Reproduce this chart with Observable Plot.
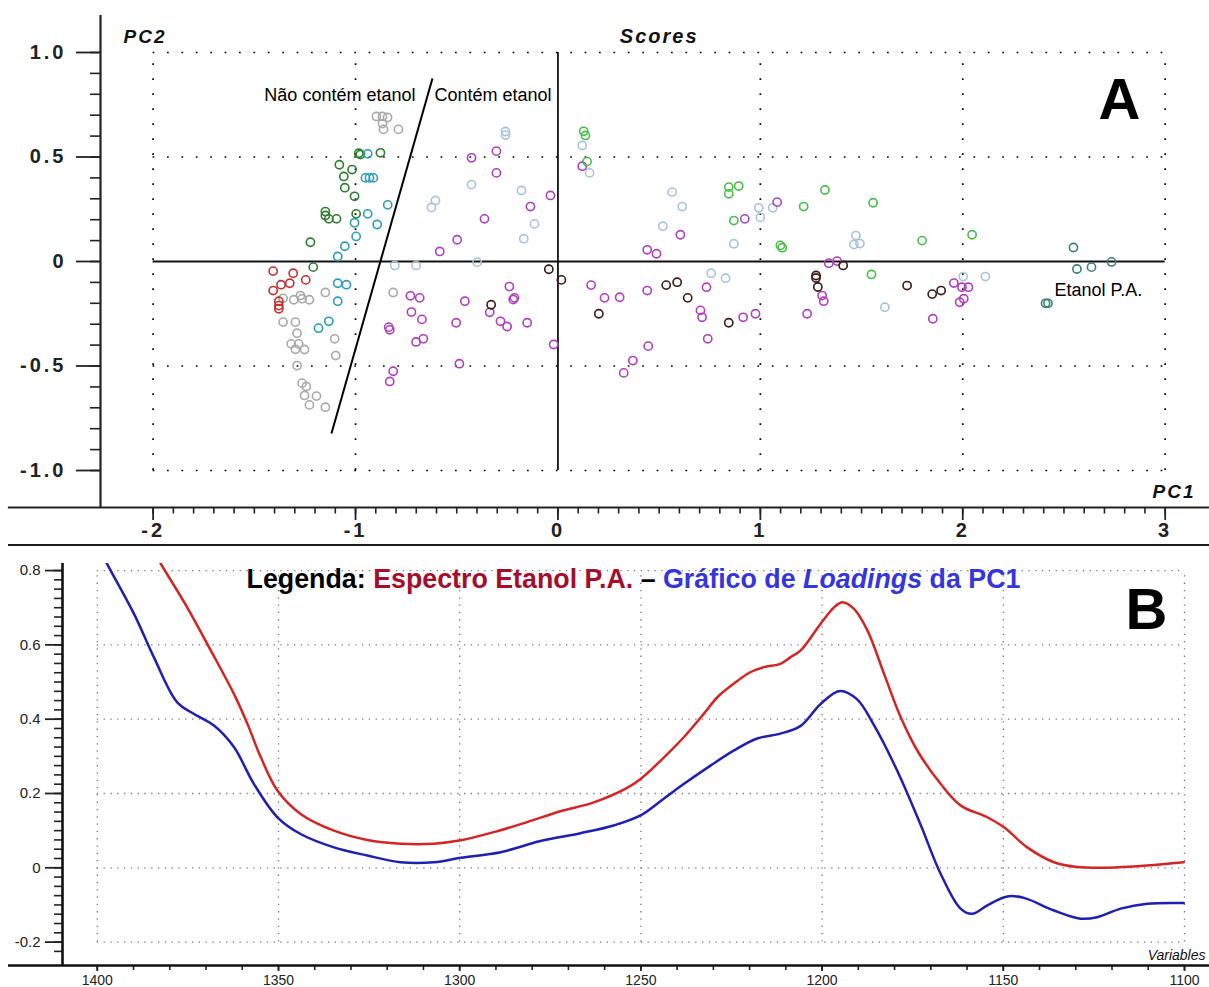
<!DOCTYPE html>
<html><head><meta charset="utf-8">
<script src="https://cdn.jsdelivr.net/npm/d3@7"></script>
<script src="https://cdn.jsdelivr.net/npm/@observablehq/plot@0.6"></script>
<style>
body{margin:0;background:#fff;font-family:"Liberation Sans",Arial,sans-serif}
#wrap{position:relative;width:1209px;height:987px;overflow:hidden;background:#fff}
#pa,#pb{position:absolute;left:0}
#pa{top:0}
#pb{top:546px}
#sep{position:absolute;left:8px;top:544px;width:1201px;height:2px;background:#1a1a1a}
#legend{position:absolute;left:29px;top:566px;width:1209px;text-align:center;font-weight:bold;font-size:26.8px;line-height:26.8px;white-space:nowrap;font-family:"Liberation Sans",Arial,sans-serif}
#pa svg g[aria-label="y-axis tick label"] text,#pa svg g[aria-label="x-axis tick label"] text{letter-spacing:3px}
</style></head>
<body><div id="wrap"><div id="pa"></div><div id="sep"></div><div id="pb"></div>
<div id="legend"><span style="color:#000">Legenda: </span><span style="color:#a50d2d">Espectro Etanol P.A.</span><span style="color:#000"> – </span><span style="color:#3535dc">Gráfico de <i>Loadings</i> da PC1</span></div></div>
<script>
// ---------- Panel A : PCA scores (PC1, PC2) ----------
const groups = ["gray","darkGreen","teal","red","lightBlue","purple","brightGreen","brown","darkTeal"];
const groupColors = ["#a9a9a9","#2f7d2f","#2b9db5","#c23030","#a9c3dc","#b03fbf","#45c045","#3b1a12","#3b8170"];

const grayPts = [[-0.897,0.694],[-0.867,0.694],[-0.842,0.689],[-0.867,0.660],[-0.862,0.632],[-0.788,0.632],
  [-1.358,-0.176],[-1.305,-0.183],[-1.272,-0.163],[-1.264,-0.178],[-1.228,-0.183],[-1.149,-0.148],
  [-1.358,-0.290],[-1.297,-0.290],[-1.289,-0.343],[-1.318,-0.394],[-1.281,-0.394],[-1.252,-0.421],
  [-1.297,-0.420],[-1.103,-0.370],[-1.098,-0.450],[-1.289,-0.498],[-1.264,-0.582],[-1.243,-0.598],
  [-1.252,-0.641],[-1.193,-0.644],[-1.228,-0.686],[-1.149,-0.697],[-0.814,-0.148]];
const darkGreenPts = [[-0.984,0.518],[-0.976,0.512],[-0.877,0.520],[-1.080,0.463],[-1.017,0.440],[-1.058,0.407],
  [-1.053,0.353],[-1.005,0.312],[-1.149,0.239],[-1.149,0.220],[-1.132,0.204],[-1.094,0.204],[-0.997,0.228],
  [-1.223,0.092],[-1.209,-0.027]];
const tealPts = [[-0.940,0.515],[-0.951,0.400],[-0.931,0.400],[-0.912,0.400],[-0.841,0.271],[-0.940,0.228],
  [-0.893,0.177],[-1.005,0.185],[-0.997,0.120],[-1.053,0.073],[-1.088,0.024],[-1.088,-0.104],[-1.045,-0.111],
  [-1.088,-0.190],[-1.132,-0.286],[-1.183,-0.319]];
const redPts = [[-1.407,-0.046],[-1.308,-0.056],[-1.246,-0.088],[-1.368,-0.111],[-1.325,-0.104],[-1.407,-0.139],
  [-1.379,-0.190],[-1.379,-0.211],[-1.379,-0.226]];
const lightBluePts = [[-0.259,0.622],[-0.259,0.605],[-0.427,0.368],[-0.180,0.340],[-0.116,0.180],[-0.169,0.109],
  [-0.605,0.292],[-0.625,0.258],[-0.399,-0.003],[-0.806,-0.019],[-0.701,-0.019],[0.120,0.555],[0.156,0.424],
  [0.564,0.332],[0.614,0.263],[0.518,0.169],[0.869,0.085],[0.992,0.257],[1.000,0.211],[1.061,0.257],
  [1.472,0.124],[1.462,0.081],[1.492,0.086],[0.757,-0.056],[0.828,-0.080],[1.615,-0.219],[2.112,-0.072],[2.002,-0.072]];
const purplePts = [[-0.427,0.496],[-0.304,0.528],[-0.304,0.424],[-0.037,0.316],[-0.136,0.263],[-0.363,0.204],
  [-0.498,0.104],[-0.584,0.048],[0.120,0.456],[0.605,0.128],[0.923,0.204],[1.083,0.284],[0.441,0.056],[0.487,0.037],
  [-0.729,-0.164],[-0.683,-0.174],[-0.724,-0.242],[-0.672,-0.277],[-0.836,-0.314],[-0.831,-0.327],[-0.701,-0.385],
  [-0.665,-0.370],[-0.814,-0.525],[-0.831,-0.574],[-0.460,-0.190],[-0.503,-0.293],[-0.487,-0.489],[-0.337,-0.243],
  [-0.240,-0.120],[-0.221,-0.182],[-0.215,-0.174],[-0.284,-0.286],[-0.251,-0.311],[-0.152,-0.293],[-0.021,-0.397],
  [0.164,-0.113],[0.230,-0.174],[0.305,-0.171],[0.441,-0.139],[0.734,-0.123],[0.704,-0.234],[0.712,-0.267],
  [0.915,-0.267],[0.976,-0.250],[0.740,-0.370],[0.446,-0.405],[0.370,-0.474],[0.325,-0.533],[1.338,-0.008],
  [1.379,0.002],[1.305,-0.163],[1.313,-0.190],[1.231,-0.250],[1.956,-0.103],[1.996,-0.123],[2.028,-0.123],
  [1.985,-0.195],[2.005,-0.178],[1.852,-0.274]];
const brightGreenPts = [[0.127,0.623],[0.136,0.603],[0.144,0.478],[0.844,0.356],[0.893,0.361],[0.844,0.324],
  [0.869,0.196],[1.099,0.077],[1.108,0.066],[1.214,0.263],[1.319,0.342],[1.557,0.281],[1.799,0.100],[2.046,0.128],
  [1.549,-0.062]];
const brownPts = [[-0.045,-0.037],[0.017,-0.088],[-0.330,-0.207],[0.202,-0.250],[0.535,-0.113],[0.589,-0.099],
  [0.641,-0.174],[0.844,-0.293],[1.409,-0.019],[1.275,-0.067],[1.275,-0.079],[1.284,-0.122],[1.725,-0.115],
  [1.849,-0.156],[1.893,-0.139]];
const darkTealPts = [[2.547,0.067],[2.564,-0.036],[2.636,-0.027],[2.735,-0.002],[2.409,-0.200],[2.421,-0.200]];

const xTicksA = [-2,-1,0,1,2,3];
const xTickLabelsA = ["-2","-1","0","1","2","3"];
const yTicksA = [-1,-0.5,0,0.5,1];
const yTickLabelsA = ["-1.0","-0.5","0","0.5","1.0"];
const xDomA = [-2.26, 3.219];
const yDomA = [-1.177, 1.177];
const axisLineStartA = -2.715;
const gridExtentXA = [-2, 3];
const gridExtentYA = [-1, 1];
const gridXA = [-2,-1,1,2,3];
const gridYA = [-1,-0.5,0.5,1];
const dividerLine = [{x1:-0.620, y1:0.876, x2:-1.119, y2:-0.823}];
const annotationsA = [
  {x:-0.704, y:0.770, text:"Não contém etanol", anchor:"end"},
  {x:-0.610, y:0.770, text:"Contém etanol", anchor:"start"},
  {x:2.453, y:-0.167, text:"Etanol P.A.", anchor:"start"}
];

const scores = [];
[grayPts,darkGreenPts,tealPts,redPts,lightBluePts,purplePts,brightGreenPts,brownPts,darkTealPts]
  .forEach((arr,gi)=>arr.forEach(([x,y])=>scores.push({x,y,g:groups[gi]})));

const xMinorA = d3.range(-20,31).map(i=>i/10);
const yMinorA = d3.range(-10,11).map(i=>i/10);
const FONT = "'Liberation Sans', Arial, sans-serif";
const labA = new Map(yTicksA.map((v,i)=>[v,yTickLabelsA[i]]));
const labXA = new Map(xTicksA.map((v,i)=>[v,xTickLabelsA[i]]));

const plotA = Plot.plot({
  width:1209, height:544,
  marginLeft:100, marginRight:0, marginTop:15, marginBottom:37,
  style:{fontFamily:FONT, background:"#fff", color:"#111"},
  x:{domain:xDomA},
  y:{domain:yDomA},
  color:{domain:groups, range:groupColors},
  marks:[
    Plot.ruleY(gridYA,{x1:gridExtentXA[0],x2:gridExtentXA[1],stroke:"#000",strokeWidth:1.7,strokeDasharray:"1.7,12.7"}),
    Plot.ruleX(gridXA,{y1:gridExtentYA[0],y2:gridExtentYA[1],stroke:"#000",strokeWidth:1.7,strokeDasharray:"1.7,13.3"}),
    Plot.ruleY([0],{x1:gridExtentXA[0],x2:gridExtentXA[1],stroke:"#111",strokeWidth:1.8}),
    Plot.ruleX([0],{y1:gridExtentYA[0],y2:gridExtentYA[1],stroke:"#111",strokeWidth:1.8}),
    Plot.link(dividerLine,{x1:"x1",y1:"y1",x2:"x2",y2:"y2",stroke:"#000",strokeWidth:2}),
    Plot.dot(scores,{x:"x",y:"y",stroke:"g",r:4.1,strokeWidth:1.6,fill:"none"}),
    Plot.text(annotationsA.filter(d=>d.anchor==="end"),{x:"x",y:"y",text:"text",textAnchor:"end",lineAnchor:"bottom",fontSize:18,fill:"#000"}),
    Plot.text(annotationsA.filter(d=>d.anchor==="start"),{x:"x",y:"y",text:"text",textAnchor:"start",lineAnchor:"bottom",fontSize:18,fill:"#000"}),
    Plot.axisX(xMinorA,{tickSize:6.5,tickFormat:()=>"",strokeWidth:1.6,color:"#222",label:null}),
    Plot.axisX(xTicksA,{tickSize:13,tickPadding:2,tickFormat:d=>labXA.get(d),fontSize:20,fontWeight:"bold",strokeWidth:1.8,color:"#222",label:null}),
    Plot.axisY(yMinorA,{tickSize:10,tickFormat:()=>"",strokeWidth:1.6,color:"#222",label:null}),
    Plot.axisY(yTicksA,{tickSize:24,tickPadding:10,tickFormat:d=>labA.get(d),fontSize:20,fontWeight:"bold",strokeWidth:1.8,color:"#222",label:null}),
    Plot.ruleX([xDomA[0]],{stroke:"#222",strokeWidth:2.2}),
    Plot.ruleY([yDomA[0]],{x1:axisLineStartA,x2:xDomA[1],stroke:"#222",strokeWidth:2.2}),
    Plot.text(["PC2"],{frameAnchor:"top-left",dx:23,dy:27,textAnchor:"start",lineAnchor:"bottom",fontSize:19,fontWeight:"bold",fontStyle:"italic",fill:"#111"}),
    Plot.text(["Scores"],{x:0.5,frameAnchor:"top",dy:27,textAnchor:"middle",lineAnchor:"bottom",fontSize:20,fontWeight:"bold",fontStyle:"italic",fill:"#111"}),
    Plot.text(["PC1"],{frameAnchor:"bottom-right",dx:-14,dy:-10,textAnchor:"end",lineAnchor:"bottom",fontSize:19,fontWeight:"bold",fontStyle:"italic",fill:"#111"}),
    Plot.text(["A"],{frameAnchor:"top-right",dx:-90,dy:103,textAnchor:"middle",lineAnchor:"bottom",fontSize:58,fontWeight:"bold",fill:"#000"})
  ]
});
document.getElementById("pa").appendChild(plotA);
d3.select(plotA).selectAll("text").filter(function(){return ["PC2","Scores","PC1"].includes(this.textContent);}).style("letter-spacing","2px");

// ---------- Panel B : spectrum vs PC1 loadings ----------
const spectrumEtanol = [[1386,0.88],[1382.5,0.819],[1375.2,0.701],[1368.7,0.585],[1362.3,0.468],[1358.6,0.388],
  [1354.9,0.298],[1350.3,0.208],[1343.9,0.145],[1334.7,0.100],[1325.5,0.075],[1316.3,0.065],[1307.1,0.065],
  [1299.7,0.074],[1290.6,0.096],[1281.4,0.123],[1272.2,0.152],[1263.0,0.176],[1253.8,0.215],[1250.1,0.239],
  [1244.6,0.288],[1238.1,0.352],[1232.6,0.415],[1228.9,0.459],[1224.3,0.496],[1219.7,0.527],[1216.1,0.540],
  [1211.5,0.549],[1208.7,0.567],[1205.9,0.585],[1200.4,0.657],[1196.7,0.701],[1194.4,0.715],[1191.2,0.697],
  [1187.5,0.639],[1182.9,0.522],[1178.3,0.405],[1173.7,0.315],[1167.3,0.226],[1161.8,0.168],[1154.4,0.136],
  [1149.8,0.109],[1143.4,0.055],[1136.0,0.015],[1129.6,0.002],[1121.3,0.000],[1110.3,0.006],[1100.2,0.015]];
const loadingsPC1 = [[1400,0.87],[1397.3,0.818],[1389.9,0.684],[1384.4,0.567],[1378.0,0.446],[1373.3,0.414],
  [1367.8,0.383],[1362.3,0.325],[1356.8,0.226],[1350.3,0.136],[1343.9,0.091],[1334.7,0.055],[1325.5,0.033],
  [1316.3,0.015],[1307.1,0.015],[1299.7,0.027],[1288.7,0.042],[1277.7,0.072],[1266.7,0.093],[1257.5,0.114],
  [1250.1,0.141],[1243.7,0.186],[1238.1,0.226],[1230.8,0.275],[1224.3,0.316],[1217.9,0.348],[1211.5,0.361],
  [1205.9,0.382],[1200.4,0.441],[1195.1,0.476],[1190.4,0.454],[1185.8,0.386],[1179.3,0.262],[1172.9,0.118],
  [1167.3,-0.016],[1161.8,-0.110],[1158.6,-0.124],[1154.4,-0.101],[1148.9,-0.077],[1144.3,-0.081],[1136.0,-0.115],
  [1128.7,-0.137],[1124.1,-0.133],[1117.6,-0.110],[1110.3,-0.097],[1100.2,-0.095]];

const xTicksB = [1400,1350,1300,1250,1200,1150,1100];
const yTicksB = [-0.2,0,0.2,0.4,0.6,0.8];
const yTickLabelsB = ["-0.2","0","0.2","0.4","0.6","0.8"];
const xDomB = [1409.6, 1093.1];
const yDomB = [-0.263, 0.819];
const axisLineStartB = 1424.5;
const gridExtentXB = [1400, 1100];
const gridExtentYB = [-0.2, 0.8];
const xMinorB = d3.range(1100,1410,10);
const yMinorB = d3.range(-9,33).map(i=>i*0.025);
const labB = new Map(yTicksB.map((v,i)=>[v,yTickLabelsB[i]]));

const plotB = Plot.plot({
  width:1209, height:441,
  marginLeft:62, marginRight:0, marginTop:17, marginBottom:22,
  style:{fontFamily:FONT, background:"#fff", color:"#111"},
  x:{domain:xDomB},
  y:{domain:yDomB},
  marks:[
    Plot.ruleY(yTicksB,{x1:gridExtentXB[0],x2:gridExtentXB[1],stroke:"#777",strokeWidth:1.3,strokeDasharray:"1.3,5.5"}),
    Plot.ruleX(xTicksB,{y1:gridExtentYB[0],y2:gridExtentYB[1],stroke:"#777",strokeWidth:1.3,strokeDasharray:"1.3,6"}),
    Plot.line(spectrumEtanol,{x:d=>d[0],y:d=>d[1],stroke:"#d42424",strokeWidth:2.5,curve:"catmull-rom",clip:true}),
    Plot.line(loadingsPC1,{x:d=>d[0],y:d=>d[1],stroke:"#1f1fb0",strokeWidth:2.5,curve:"catmull-rom",clip:true}),
    Plot.axisX(xMinorB,{tickSize:5,tickFormat:()=>"",strokeWidth:1.6,color:"#222",label:null}),
    Plot.axisX(xTicksB,{tickSize:6,tickPadding:4,tickFormat:d=>String(d),fontSize:14,strokeWidth:1.8,color:"#222",label:null}),
    Plot.axisY(yMinorB,{tickSize:8,tickFormat:()=>"",strokeWidth:1.6,color:"#222",label:null}),
    Plot.axisY(yTicksB,{tickSize:17,tickPadding:5,tickFormat:d=>labB.get(d),fontSize:15,strokeWidth:1.8,color:"#222",label:null}),
    Plot.ruleX([xDomB[0]],{stroke:"#111",strokeWidth:2.6}),
    Plot.ruleY([yDomB[0]],{x1:axisLineStartB,x2:xDomB[1],stroke:"#111",strokeWidth:2.6}),
    Plot.text(["Variables"],{frameAnchor:"bottom-right",dx:-4,dy:-6,textAnchor:"end",lineAnchor:"bottom",fontSize:14,fontStyle:"italic",fill:"#111"}),
    Plot.text(["B"],{frameAnchor:"top-right",dx:-84,dy:65,textAnchor:"start",lineAnchor:"bottom",fontSize:58,fontWeight:"bold",fill:"#000"})
  ]
});
document.getElementById("pb").appendChild(plotB);
</script>
</body></html>
